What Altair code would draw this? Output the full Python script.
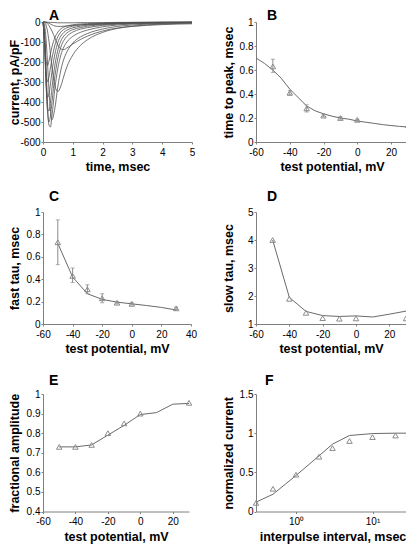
import altair as alt
import pandas as pd

FONT = "Liberation Sans"
TRACE = "#505050"
LINE = "#6a6a6a"
MARK = "#8c8c8c"
AXIS = "#808080"

# ---------------- Panel A: current traces ----------------
a_time = [0, 0.05, 0.1, 0.15, 0.2, 0.25, 0.3, 0.4, 0.5, 0.6, 0.7, 0.8, 1.0, 1.25, 1.5, 2.0, 2.5, 3.0, 4.0, 5.0]
a_m70 = [0, 0, 0, -1, -1, -2, -2, -3, -4, -4, -4, -4, -4, -3, -3, -3, -2, -2, -1, -1]
a_m60 = [0, 0, -1, -3, -6, -10, -14, -20, -22, -22, -21, -20, -17, -14, -12, -9, -7, -5, -3, -2]
a_m50 = [0, 0, -3, -8, -18, -30, -45, -80, -115, -135, -138, -130, -110, -88, -70, -45, -30, -22, -13, -9]
a_m40 = [0, -3, -15, -45, -95, -160, -225, -320, -348, -320, -270, -225, -165, -118, -88, -52, -32, -21, -10, -6]
a_m30 = [0, -15, -80, -200, -340, -440, -488, -430, -320, -240, -185, -150, -105, -75, -57, -35, -22, -15, -7, -4]
a_m20 = [0, -40, -200, -400, -515, -525, -470, -330, -230, -165, -125, -100, -72, -52, -40, -24, -15, -10, -5, -3]
a_m10 = [0, -70, -280, -450, -500, -470, -400, -270, -180, -125, -92, -72, -50, -36, -28, -17, -11, -7, -4, -2]
a_p0 = [0, -90, -300, -430, -445, -400, -330, -215, -140, -95, -70, -55, -38, -28, -21, -13, -8, -5, -3, -2]
a_p10 = [0, -100, -290, -378, -360, -310, -250, -160, -102, -70, -52, -41, -29, -21, -16, -10, -6, -4, -2, -1]
a_p20 = [0, -95, -250, -298, -275, -230, -185, -115, -73, -50, -37, -29, -21, -15, -12, -7, -5, -3, -2, -1]
a_p30 = [0, -85, -195, -218, -195, -160, -125, -78, -50, -34, -25, -20, -14, -10, -8, -5, -3, -2, -1, -1]
a_names = ["-70", "-60", "-50", "-40", "-30", "-20", "-10", "0", "10", "20", "30"]
a_traces = [a_m70, a_m60, a_m50, a_m40, a_m30, a_m20, a_m10, a_p0, a_p10, a_p20, a_p30]

# ---------------- Panel B: time to peak ----------------
b_x = [-50, -40, -30, -20, -10, 0, 30]
b_y = [0.63, 0.41, 0.28, 0.22, 0.20, 0.185, 0.14]
b_lo = [0.58, 0.39, 0.25, 0.21, 0.19, 0.175, 0.13]
b_hi = [0.69, 0.43, 0.31, 0.23, 0.21, 0.19, 0.15]
b_fit_x = [-60, -55, -50, -45, -40, -35, -30, -25, -20, -15, -10, -5, 0, 5, 10, 15, 20, 25, 30]
b_fit_y = [0.70, 0.655, 0.60, 0.53, 0.44, 0.37, 0.30, 0.26, 0.235, 0.215, 0.20, 0.19, 0.175, 0.165, 0.155, 0.145, 0.137, 0.13, 0.125]

# ---------------- Panel C: fast tau ----------------
c_x = [-50, -40, -30, -20, -10, 0, 30]
c_y = [0.73, 0.43, 0.31, 0.23, 0.19, 0.18, 0.14]
c_lo = [0.53, 0.37, 0.27, 0.19, 0.18, 0.17, 0.13]
c_hi = [0.93, 0.50, 0.35, 0.27, 0.20, 0.19, 0.15]
c_fit_x = [-50, -40, -30, -20, -10, 0, 10, 20, 30]
c_fit_y = [0.72, 0.42, 0.27, 0.22, 0.195, 0.18, 0.165, 0.148, 0.125]

# ---------------- Panel D: slow tau ----------------
d_x = [-50, -40, -30, -20, -10, 0, 30]
d_y = [4.0, 1.9, 1.4, 1.21, 1.19, 1.2, 1.2]
d_fit_x = [-50, -40, -30, -20, -10, 0, 10, 20, 30]
d_fit_y = [4.0, 1.95, 1.45, 1.30, 1.27, 1.29, 1.25, 1.35, 1.46]

# ---------------- Panel E: fractional amplitude ----------------
e_x = [-50, -40, -30, -20, -10, 0, 30]
e_y = [0.73, 0.73, 0.74, 0.80, 0.85, 0.90, 0.955]
e_fit_x = [-50, -40, -30, -20, -10, 0, 10, 20, 30]
e_fit_y = [0.73, 0.73, 0.74, 0.79, 0.84, 0.895, 0.905, 0.948, 0.952]

# ---------------- Panel F: recovery ----------------
f_x = [0.3, 0.5, 1, 2, 3, 5, 10, 20, 30]
f_y = [0.11, 0.29, 0.47, 0.70, 0.81, 0.90, 0.95, 0.97, 0.985]
f_fit_x = [0.3, 0.5, 1, 2, 3, 5, 10, 20, 30]
f_fit_y = [0.12, 0.22, 0.46, 0.71, 0.86, 0.97, 0.995, 1.0, 1.0]

LBL = "'' + datum.value"


def xaxis(values, title, expr=LBL, tpad=3):
    return alt.Axis(values=values, title=title, labelExpr=expr, tickSize=2,
                    labelPadding=3, titlePadding=tpad, labelFlush=False)


def yaxis(values, title, tx):
    return alt.Axis(values=values, title=title, labelExpr=LBL, tickSize=2,
                    labelPadding=1, titleX=tx, titleBaseline="middle", labelFlush=False)


def ttl(letter, dx, offset, dy=0):
    return alt.TitleParams(letter, anchor="start", frame="group", dx=dx, dy=dy, offset=offset,
                           font=FONT, fontSize=14, fontWeight="bold", color="black")


def scat_panel(title, xs, ys, fx, fy, xdom, ydom, xvals, yvals, xtitle, ytitle, tx,
               w, h, lo=None, hi=None, xlog=False, xexpr=LBL, tpad=3):
    pts = pd.DataFrame({"x": xs, "y": ys})
    fit = pd.DataFrame({"x": fx, "y": fy})
    xsc = alt.Scale(domain=xdom, nice=False, zero=False, type="log" if xlog else "linear")
    ysc = alt.Scale(domain=ydom, nice=False, zero=False)
    xa = xaxis(xvals, xtitle, xexpr, tpad)
    ya = yaxis(yvals, ytitle, tx)
    layers = [
        alt.Chart(fit).mark_line(color=LINE, strokeWidth=1).encode(
            x=alt.X("x:Q", scale=xsc, axis=xa), y=alt.Y("y:Q", scale=ysc, axis=ya))
    ]
    if lo is not None:
        err = pd.DataFrame({"x": xs, "lo": lo, "hi": hi})
        layers.append(
            alt.Chart(err).mark_errorbar(ticks=True, size=4, thickness=1, color=MARK).encode(
                x=alt.X("x:Q", scale=xsc, axis=xa),
                y=alt.Y("lo:Q", scale=ysc, axis=ya), y2="hi:Q"))
    layers.append(
        alt.Chart(pts).mark_point(shape="triangle-up", filled=False, size=30, color=MARK,
                                  strokeWidth=1, opacity=1).encode(
            x=alt.X("x:Q", scale=xsc, axis=xa), y=alt.Y("y:Q", scale=ysc, axis=ya)))
    return alt.layer(*layers).properties(width=w, height=h, title=title)


rows = []
for n, tr in zip(a_names, a_traces):
    for t, v in zip(a_time, tr):
        rows.append({"t": t, "v": v, "trace": n})
dfA = pd.DataFrame(rows)

A = alt.Chart(dfA).mark_line(color=TRACE, strokeWidth=0.8, interpolate="monotone").encode(
    x=alt.X("t:Q", scale=alt.Scale(domain=[0, 5], nice=False),
            axis=xaxis([0, 1, 2, 3, 4, 5], "time, msec")),
    y=alt.Y("v:Q", scale=alt.Scale(domain=[-600, 0], nice=False),
            axis=yaxis([0, -100, -200, -300, -400, -500, -600], "current, pA/pF", -29)),
    detail="trace:N",
).properties(width=149, height=120, title=ttl("A", 6, 0, 6))

pot = "test potential, mV"
B = scat_panel(ttl("B", 11, 0, 6), b_x, b_y, b_fit_x, b_fit_y, [-60, 30], [0, 1],
               [-60, -40, -20, 0, 20], [0, 0.2, 0.4, 0.6, 0.8, 1], pot, "time to peak, msec", -28,
               152, 120, b_lo, b_hi)
C = scat_panel(ttl("C", 6, 3), c_x, c_y, c_fit_x, c_fit_y, [-60, 40], [0, 1],
               [-60, -40, -20, 0, 20, 40], [0, 0.2, 0.4, 0.6, 0.8, 1], pot, "fast tau, msec", -29,
               148, 112, c_lo, c_hi)
D = scat_panel(ttl("D", 11, 3), d_x, d_y, d_fit_x, d_fit_y, [-60, 30], [1, 5],
               [-60, -40, -20, 0, 20], [1, 2, 3, 4, 5], pot, "slow tau, msec", -28,
               150, 112)
E = scat_panel(ttl("E", 6, 1), e_x, e_y, e_fit_x, e_fit_y, [-60, 30], [0.4, 1],
               [-60, -40, -20, 0, 20], [0.4, 0.5, 0.6, 0.7, 0.8, 0.9, 1], pot, "fractional amplitude", -29,
               146, 117.5, tpad=4)
F = scat_panel(ttl("F", 9, 1), f_x, f_y, f_fit_x, f_fit_y, [0.3, 30], [0, 1.5],
               [1, 10], [0, 0.5, 1, 1.5], "interpulse interval, msec", "normalized current", -28,
               153, 117.5, xlog=True, xexpr="datum.value == 1 ? '10\u2070' : '10\u00b9'", tpad=4)

chart = alt.concat(A, B, C, D, E, F, columns=2, bounds="flush", align="each",
                   spacing=alt.RowColnumber(row=70, column=64)).properties(
    autosize=alt.AutoSizeParams(type="none"),
    padding={"left": 35, "top": 14, "right": 363, "bottom": 523},
).configure_axis(
    labelFont=FONT, labelFontSize=10, labelColor="black",
    titleFont=FONT, titleFontSize=12.5, titleFontWeight="bold", titleColor="black",
    domainColor=AXIS, tickColor=AXIS, grid=False,
).configure_view(stroke=None)

chart.save("out.html", embed_options={"renderer": "svg", "actions": False})
